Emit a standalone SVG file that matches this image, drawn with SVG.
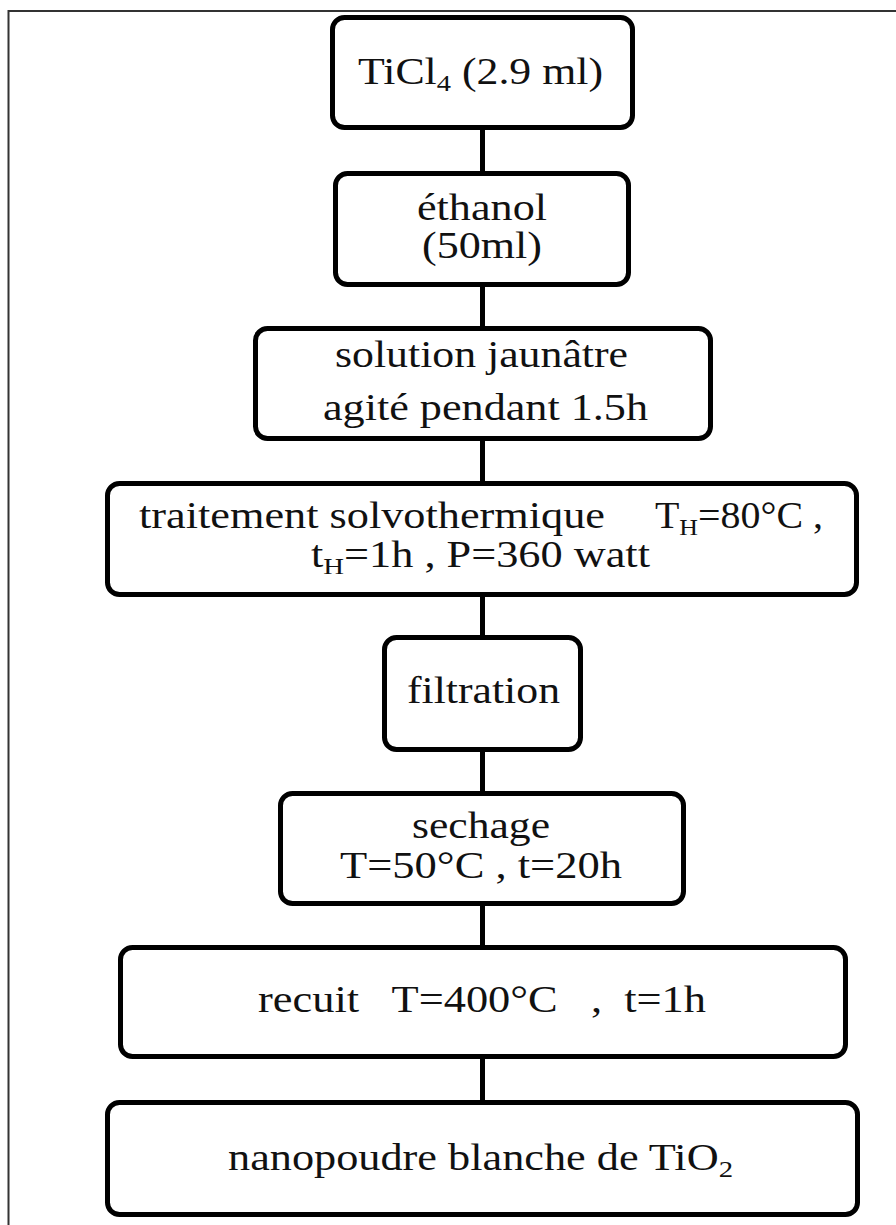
<svg xmlns="http://www.w3.org/2000/svg" width="896" height="1225" viewBox="0 0 896 1225">
<style>
.box{fill:#fff;stroke:#000;stroke-width:5}
.t{font-size:37px;fill:#111}
.s{font-size:24px}
.c line{stroke:#000;stroke-width:5}
</style>
<rect width="896" height="1225" fill="#fff"/>
<path d="M8.5 1225 V11 H896" fill="none" stroke="#333" stroke-width="2"/>
<g class="c" id="connectors">
<line x1="482.5" y1="128" x2="482.5" y2="173"/>
<line x1="482.5" y1="285" x2="482.5" y2="328"/>
<line x1="482.5" y1="439" x2="482.5" y2="483"/>
<line x1="482.5" y1="595" x2="482.5" y2="637"/>
<line x1="482.5" y1="750" x2="482.5" y2="793"/>
<line x1="482.5" y1="904" x2="482.5" y2="947"/>
<line x1="482.5" y1="1057" x2="482.5" y2="1102"/>
</g>
<g font-family="Liberation Serif, Tinos, Times New Roman, serif">
<g id="n1">
<rect class="box" x="332.5" y="17.5" width="300" height="110" rx="12"/>
<text class="t" x="358" y="84" textLength="245" lengthAdjust="spacingAndGlyphs">TiCl<tspan class="s" dy="7">4</tspan><tspan dy="-7"> (2.9 ml)</tspan></text>
</g>
<g id="n2">
<rect class="box" x="335.5" y="173.5" width="293" height="111" rx="12"/>
<text class="t" x="417" y="220" textLength="130" lengthAdjust="spacingAndGlyphs">éthanol</text>
<text class="t" x="422" y="258" textLength="120" lengthAdjust="spacingAndGlyphs">(50ml)</text>
</g>
<g id="n3">
<rect class="box" x="255.5" y="328.5" width="455" height="110" rx="12"/>
<text class="t" x="335" y="367" textLength="293" lengthAdjust="spacingAndGlyphs">solution jaunâtre</text>
<text class="t" x="323" y="420" textLength="325" lengthAdjust="spacingAndGlyphs">agité pendant 1.5h</text>
</g>
<g id="n4">
<rect class="box" x="107.5" y="483.5" width="749" height="111" rx="12"/>
<text class="t" x="139" y="528" textLength="466" lengthAdjust="spacingAndGlyphs">traitement solvothermique</text>
<text class="t" x="655" y="528" textLength="168" lengthAdjust="spacingAndGlyphs">T<tspan class="s" dy="7">H</tspan><tspan dy="-7">=80°C ,</tspan></text>
<text class="t" x="311" y="567" textLength="339" lengthAdjust="spacingAndGlyphs">t<tspan class="s" dy="7">H</tspan><tspan dy="-7">=1h , P=360 watt</tspan></text>
</g>
<g id="n5">
<rect class="box" x="384.5" y="637.5" width="196" height="112" rx="12"/>
<text class="t" x="407" y="703" textLength="153" lengthAdjust="spacingAndGlyphs">filtration</text>
</g>
<g id="n6">
<rect class="box" x="280.5" y="793.5" width="403" height="110" rx="12"/>
<text class="t" x="412" y="838" textLength="138" lengthAdjust="spacingAndGlyphs">sechage</text>
<text class="t" x="340" y="878" textLength="282" lengthAdjust="spacingAndGlyphs">T=50°C , t=20h</text>
</g>
<g id="n7">
<rect class="box" x="120.5" y="947.5" width="725" height="109" rx="12"/>
<text class="t" x="258" y="1012" textLength="448" lengthAdjust="spacingAndGlyphs" xml:space="preserve">recuit   T=400°C   ,  t=1h</text>
</g>
<g id="n8">
<rect class="box" x="107.5" y="1102.5" width="750" height="112" rx="12"/>
<text class="t" x="228" y="1170" textLength="505" lengthAdjust="spacingAndGlyphs">nanopoudre blanche de TiO<tspan class="s" dy="7">2</tspan></text>
</g>
</g>
</svg>
